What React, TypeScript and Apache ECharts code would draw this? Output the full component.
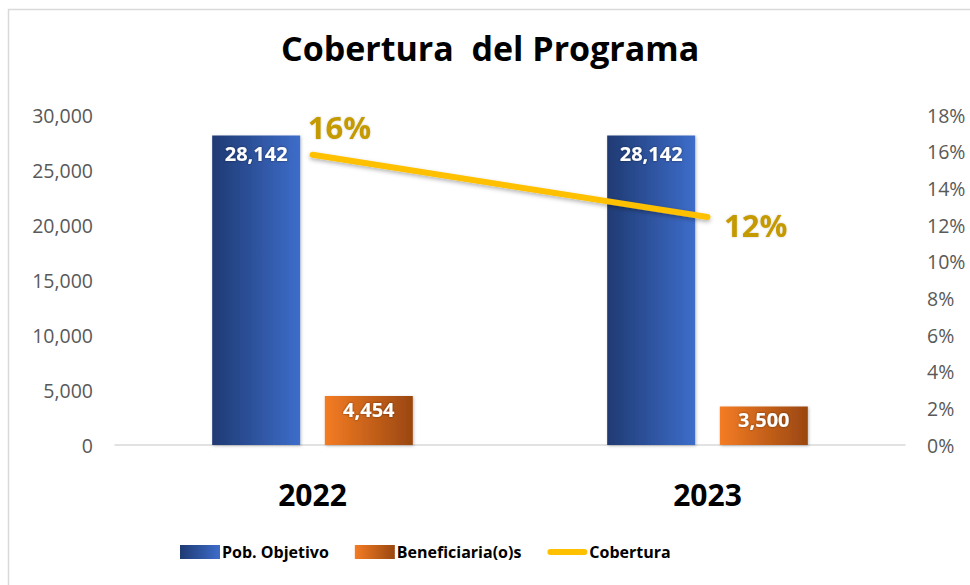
import React, { useEffect, useRef } from "react";
import * as echarts from "echarts";

const categories = ["2022", "2023"];
const pobObjetivo = [28142, 28142];
const beneficiarios = [4454, 3500];
const cobertura = [0.1583, 0.1244];
const coberturaLabels = ["16%", "12%"];
const seriesNames = ["Pob. Objetivo", "Beneficiaria(o)s", "Cobertura"];

const FONT = "'Open Sans', 'Noto Sans', sans-serif";

export default function App() {
  const ref = useRef<HTMLDivElement>(null);
  useEffect(() => {
    document.body.style.margin = "0";
    const chart = echarts.init(ref.current!, null, { renderer: "svg" });
    const blueGrad = new echarts.graphic.LinearGradient(0, 0, 1, 0, [
      { offset: 0, color: "#1F3A73" },
      { offset: 1, color: "#3D6DCA" },
    ]);
    const orangeGrad = new echarts.graphic.LinearGradient(0, 0, 1, 0, [
      { offset: 0, color: "#F47C24" },
      { offset: 1, color: "#9A4710" },
    ]);
    const barLabel = {
      show: true,
      position: "insideTop",
      color: "#fff",
      fontSize: 20,
      fontWeight: "bold",
      fontFamily: FONT,
      textShadowColor: "rgba(0,0,0,0.5)",
      textShadowBlur: 2,
      formatter: (p: any) => Number(p.value).toLocaleString("en-US"),
    };
    chart.setOption({
      animation: false,
      backgroundColor: "#ffffff",
      textStyle: { fontFamily: FONT },
      title: {
        text: "Cobertura  del Programa",
        left: 276,
        top: 26,
        textStyle: { fontSize: 34, fontWeight: "bold", color: "#000", fontFamily: FONT },
      },
      graphic: [
        {
          type: "rect",
          shape: { x: 8.5, y: 9.5, width: 1000, height: 1000 },
          style: { fill: "none", stroke: "#D9D9D9", lineWidth: 1.5 },
          silent: true,
        },
      ],
      legend: {
        bottom: 20,
        left: 175,
        itemWidth: 40,
        itemHeight: 14,
        itemGap: 26,
        textStyle: { fontSize: 16, fontWeight: "bold", color: "#000", fontFamily: FONT, padding: [0, 0, 0, -3] },
        data: [
          { name: seriesNames[0], icon: "rect" },
          { name: seriesNames[1], icon: "rect" },
          { name: seriesNames[2], icon: "path://M3,0 H37 A3,3 0 0 1 37,6 H3 A3,3 0 0 1 3,0 Z" },
        ],
      },
      grid: { left: 115, right: 65, top: 115, bottom: 140, containLabel: false },
      xAxis: {
        type: "category",
        data: categories,
        axisLine: { lineStyle: { color: "#D9D9D9", width: 1.5 } },
        axisTick: { show: false },
        axisLabel: { fontSize: 30, fontWeight: "bold", color: "#000", margin: 34, fontFamily: FONT },
      },
      yAxis: [
        {
          type: "value",
          min: 0,
          max: 30000,
          interval: 5000,
          splitLine: { show: false },
          axisLine: { show: false },
          axisTick: { show: false },
          axisLabel: {
            fontSize: 19.5,
            color: "#595959",
            margin: 22,
            fontFamily: FONT,
            formatter: (v: number) => v.toLocaleString("en-US"),
          },
        },
        {
          type: "value",
          min: 0,
          max: 0.18,
          interval: 0.02,
          splitLine: { show: false },
          axisLine: { show: false },
          axisTick: { show: false },
          axisLabel: {
            fontSize: 19.5,
            color: "#595959",
            margin: 22,
            fontFamily: FONT,
            formatter: (v: number) => Math.round(v * 100) + "%",
          },
        },
      ],
      series: [
        {
          name: seriesNames[0],
          type: "bar",
          data: pobObjetivo,
          barWidth: 88,
          barGap: "28%",
          itemStyle: { color: blueGrad, shadowColor: "rgba(0,0,0,0.25)", shadowBlur: 3, shadowOffsetX: 1, shadowOffsetY: 1 },
          label: { ...barLabel, distance: 8 },
        },
        {
          name: seriesNames[1],
          type: "bar",
          data: beneficiarios,
          barWidth: 88,
          itemStyle: { color: orangeGrad, shadowColor: "rgba(0,0,0,0.25)", shadowBlur: 3, shadowOffsetX: 1, shadowOffsetY: 1 },
          label: { ...barLabel, distance: 3 },
        },
        {
          name: seriesNames[2],
          type: "line",
          yAxisIndex: 1,
          data: cobertura.map((v, i) => ({
            value: v,
            label: i === 0
              ? { position: "top", offset: [27, -7] }
              : { position: "right", offset: [11, 8] },
          })),
          symbol: "circle",
          symbolSize: 1,
          showSymbol: true,
          lineStyle: { color: "#FFC000", width: 6, cap: "round", shadowColor: "rgba(0,0,0,0.3)", shadowBlur: 4, shadowOffsetY: 2 },
          itemStyle: { color: "#FFC000" },
          label: {
            show: true,
            distance: 5,
            color: "#C49A00",
            fontSize: 31,
            fontWeight: "bold",
            fontFamily: FONT,
            textShadowColor: "rgba(0,0,0,0.2)",
            textShadowBlur: 2,
            formatter: (p: any) => coberturaLabels[p.dataIndex],
          },
        },
      ],
    });
    return () => chart.dispose();
  }, []);
  return <div ref={ref} style={{ width: 970, height: 585 }} />;
}
